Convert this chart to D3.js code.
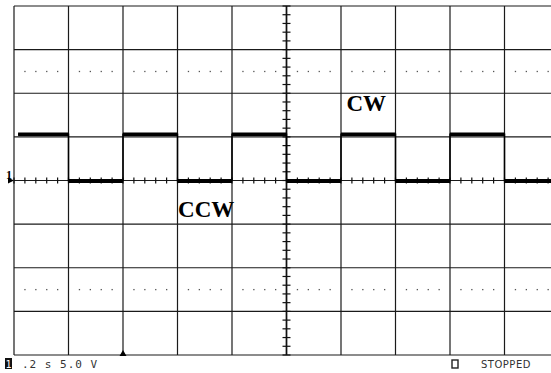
<!DOCTYPE html>
<html>
<head>
<meta charset="utf-8">
<script src="https://cdn.jsdelivr.net/npm/d3@7"></script>
<style>
  body { margin: 0; background: #fff; }
  svg { display: block; }
</style>
</head>
<body>
<svg id="scope" width="551" height="373"></svg>
<script>
// Scope settings: .2 s/div, 5.0 V/div, 10 x 8 divisions
const timeDomain = [0, 2.0];
const voltDomain = [-20, 20];
const timeGrid = [0, 0.2, 0.4, 0.6, 0.8, 1.0, 1.2, 1.4, 1.6, 1.8, 2.0];
const voltGrid = [-20, -15, -10, -5, 0, 5, 10, 15, 20];
const dottedVolts = [12.5, -12.5];

// Square wave trace: edge times (s) and level after each edge (V)
const edgeTimes = [0.015, 0.2, 0.4, 0.6, 0.8, 1.0, 1.2, 1.4, 1.6, 1.8, 2.0];
const edgeLevels = [5.3, 0, 5.3, 0, 5.3, 0, 5.3, 0, 5.3, 0, 0];

const labels = [
    { text: 'CW', t: 1.22, v: 8.0 },
    { text: 'CCW', t: 0.602, v: -4.2 }
];

const svg = d3.select('#scope');
const x = d3.scaleLinear().domain(timeDomain).range([14, 559]);
const y = d3.scaleLinear().domain(voltDomain).range([355, 6]);

// Major grid
svg.append('g').selectAll('line')
    .data(timeGrid)
    .join('line')
    .attr('x1', d => x(d)).attr('x2', d => x(d))
    .attr('y1', y(20)).attr('y2', y(-20))
    .attr('stroke', '#1a1a1a').attr('stroke-width', 1.2);

svg.append('g').selectAll('line')
    .data(voltGrid)
    .join('line')
    .attr('x1', x(0)).attr('x2', x(2.0))
    .attr('y1', d => y(d)).attr('y2', d => y(d))
    .attr('stroke', '#1a1a1a').attr('stroke-width', 1.2);

// Dotted reference lines (dots every 1/5 division)
const minorT = d3.range(0, 2.0001, 0.04).filter(t => Math.round(t * 25) % 5 !== 0);
dottedVolts.forEach(v => {
    svg.append('g').selectAll('rect')
        .data(minorT)
        .join('rect')
        .attr('x', d => x(d) - 0.6).attr('y', y(v) - 0.6)
        .attr('width', 1.3).attr('height', 1.3)
        .attr('fill', '#555');
});

// Center axes with minor ticks
const axisT = d3.range(0, 2.0001, 0.04);
svg.append('g').selectAll('line')
    .data(axisT)
    .join('line')
    .attr('x1', d => x(d)).attr('x2', d => x(d))
    .attr('y1', y(0) - 3).attr('y2', y(0) + 3)
    .attr('stroke', '#111').attr('stroke-width', 1.2);

const axisV = d3.range(-20, 20.001, 1);
svg.append('g').selectAll('line')
    .data(axisV)
    .join('line')
    .attr('x1', x(1.0) - 4).attr('x2', x(1.0) + 4)
    .attr('y1', d => y(d)).attr('y2', d => y(d))
    .attr('stroke', '#111').attr('stroke-width', 1.2);

svg.append('line')
    .attr('x1', x(1.0)).attr('x2', x(1.0))
    .attr('y1', y(20)).attr('y2', y(-20))
    .attr('stroke', '#111').attr('stroke-width', 1.6);

// Trace
const trace = [];
edgeTimes.forEach((t, i) => {
    if (i > 0) trace.push([t, edgeLevels[i - 1]]);
    trace.push([t, edgeLevels[i]]);
});
svg.append('path')
    .datum(trace.slice(0, -1))
    .attr('d', d3.line().x(d => x(d[0])).y(d => y(d[1])).curve(d3.curveLinear))
    .attr('fill', 'none')
    .attr('stroke', '#000')
    .attr('stroke-width', 1.5);

// thick (noisy) level segments
const segs = edgeTimes.slice(0, -1).map((t, i) => ({ t0: t, t1: edgeTimes[i + 1], v: edgeLevels[i] }));
svg.append('g').selectAll('line')
    .data(segs)
    .join('line')
    .attr('x1', d => x(d.t0)).attr('x2', d => Math.min(x(d.t1), 551))
    .attr('y1', d => y(d.v) + (d.v === 0 ? 0.5 : 0)).attr('y2', d => y(d.v) + (d.v === 0 ? 0.5 : 0))
    .attr('stroke', '#000')
    .attr('stroke-width', d => d.v === 0 ? 4 : 3.5);

// Channel 1 ground marker
svg.append('text')
    .attr('x', 6).attr('y', y(0) - 2)
    .attr('font-family', 'Liberation Serif').attr('font-size', 12).attr('font-weight', 'bold')
    .text('1');
svg.append('path')
    .attr('d', `M${x(0) - 6},${y(0) - 3} L${x(0)},${y(0)} L${x(0) - 6},${y(0) + 3} Z`)
    .attr('fill', '#000');

// Trigger marker at bottom
svg.append('path')
    .attr('d', `M${x(0.4) - 3.5},${y(-20) + 1} L${x(0.4)},${y(-20) - 5} L${x(0.4) + 3.5},${y(-20) + 1} Z`)
    .attr('fill', '#000');

// Annotations
svg.append('g').selectAll('text')
    .data(labels)
    .join('text')
    .attr('x', d => x(d.t)).attr('y', d => y(d.v))
    .attr('font-family', 'Liberation Serif, DejaVu Serif, serif')
    .attr('font-weight', 'bold')
    .attr('font-size', 23)
    .text(d => d.text);

// Status line
svg.append('rect')
    .attr('x', 5).attr('y', 358).attr('width', 7).attr('height', 11)
    .attr('fill', '#111');
svg.append('text')
    .attr('x', 8.5).attr('y', 367.5)
    .attr('text-anchor', 'middle')
    .attr('font-family', 'DejaVu Sans Mono').attr('font-size', 10)
    .attr('fill', '#fff')
    .text('1');
svg.append('text')
    .attr('x', 22).attr('y', 368)
    .attr('font-family', 'DejaVu Sans Mono').attr('font-size', 11)
    .attr('fill', '#333')
    .attr('letter-spacing', 1)
    .text('.2 s 5.0 V');
svg.append('rect')
    .attr('x', 452).attr('y', 360).attr('width', 6).attr('height', 8)
    .attr('fill', 'none').attr('stroke', '#222').attr('stroke-width', 1.4);
svg.append('text')
    .attr('x', 481).attr('y', 368)
    .attr('font-family', 'DejaVu Sans').attr('font-size', 10)
    .attr('fill', '#333')
    .attr('letter-spacing', 0.5)
    .text('STOPPED');
</script>
</body>
</html>
